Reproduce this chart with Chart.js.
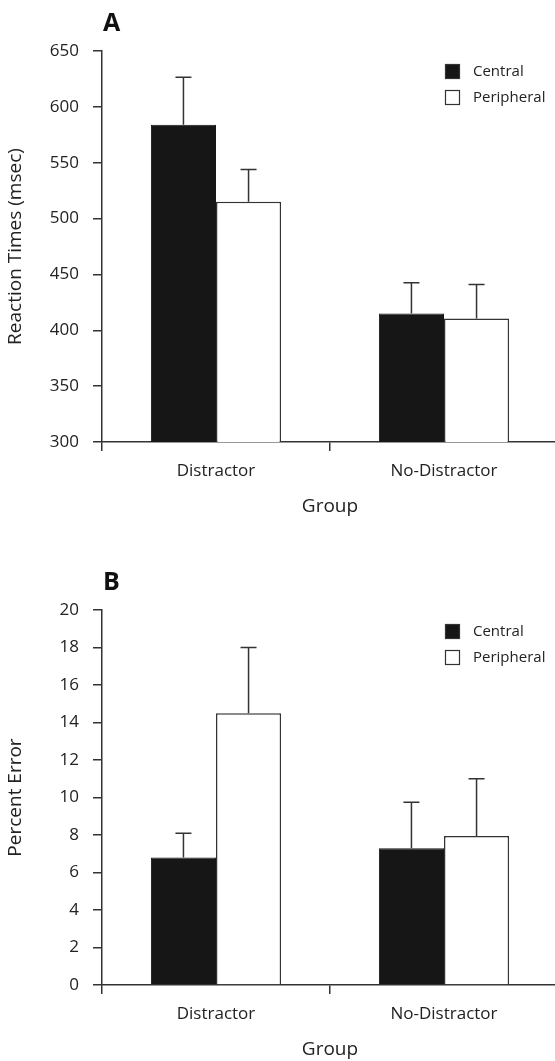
<!DOCTYPE html>
<html>
<head>
<meta charset="utf-8">
<script src="https://cdn.jsdelivr.net/npm/chart.js@4.4.0/dist/chart.umd.min.js"></script>
<style>
  html, body { margin: 0; padding: 0; background: #fff; }
  body { width: 555px; height: 1061px; overflow: hidden; position: relative; }
  canvas { position: absolute; left: 0; }
  #chartA { top: 0; }
  #chartB { top: 543px; }
</style>
</head>
<body>
<canvas id="chartA" width="558" height="530"></canvas>
<canvas id="chartB" width="558" height="530"></canvas>
<script>
// data
const categories = ['Distractor', 'No-Distractor'];
const seriesNames = ['Central', 'Peripheral'];

// panel A: reaction times (msec), bar means and error (SE) sizes
const rtCentral = [584, 415];
const rtPeripheral = [515, 410.5];
const rtCentralErr = [42.5, 27.5];
const rtPeripheralErr = [29, 30.5];
const rtTicks = { min: 300, max: 650, step: 50 };

// panel B: percent error
const peCentral = [6.8, 7.3];
const pePeripheral = [14.5, 7.95];
const peCentralErr = [1.3, 2.45];
const pePeripheralErr = [3.5, 3.05];
const peTicks = { min: 0, max: 20, step: 2 };

const FONT = "'Open Sans', 'Noto Sans', sans-serif";
const INK = '#222';
const AXIS = '#333';

// error bars on top of each bar, positioned with the y scale
const errorBars = {
  id: 'errorBars',
  afterDatasetsDraw(chart) {
    const ctx = chart.ctx;
    const y = chart.scales.y;
    ctx.save();
    ctx.strokeStyle = AXIS;
    ctx.lineWidth = 1.5;
    chart.data.datasets.forEach((ds, di) => {
      const meta = chart.getDatasetMeta(di);
      meta.data.forEach((bar, i) => {
        const top = y.getPixelForValue(ds.data[i] + ds.errors[i]);
        ctx.beginPath();
        ctx.moveTo(bar.x, bar.y);
        ctx.lineTo(bar.x, top);
        ctx.moveTo(bar.x - 8, top);
        ctx.lineTo(bar.x + 8, top);
        ctx.stroke();
      });
    });
    ctx.restore();
  }
};

// panel letter and the small legend in the top right
const panelDecor = {
  id: 'panelDecor',
  afterDraw(chart, args, opts) {
    const ctx = chart.ctx;
    const area = chart.chartArea;
    ctx.save();
    ctx.fillStyle = '#111';
    ctx.font = "bold 25px " + FONT;
    ctx.textBaseline = 'alphabetic';
    ctx.fillText(opts.letter, area.left + 1, area.top - 20);

    const lx = area.left + 343;
    let ly = area.top + opts.legendTop;
    ctx.font = "15px " + FONT;
    ctx.textBaseline = 'middle';
    chart.data.datasets.forEach((ds) => {
      ctx.fillStyle = ds.backgroundColor;
      ctx.fillRect(lx, ly, 15, 15);
      ctx.strokeStyle = AXIS;
      ctx.lineWidth = 1.2;
      ctx.strokeRect(lx + 0.5, ly + 0.5, 14, 14);
      ctx.fillStyle = INK;
      ctx.fillText(ds.label, lx + 28, ly + 8);
      ly += 26;
    });
    ctx.restore();
  }
};

function makeChart(id, letter, central, peripheral, centralErr, peripheralErr, ticks, yTitle, padTop, legendTop) {
  const ctx = document.getElementById(id).getContext('2d');
  return new Chart(ctx, {
    type: 'bar',
    data: {
      labels: categories,
      datasets: [
        {
          label: seriesNames[0],
          data: central,
          errors: centralErr,
          backgroundColor: '#161616',
          borderColor: '#161616',
          borderWidth: 1,
        },
        {
          label: seriesNames[1],
          data: peripheral,
          errors: peripheralErr,
          backgroundColor: '#ffffff',
          borderColor: AXIS,
          borderWidth: 1.5,
        },
      ],
    },
    options: {
      responsive: false,
      animation: false,
      categoryPercentage: 0.571,
      barPercentage: 1.0,
      layout: { padding: { top: padTop, left: 0, right: 0, bottom: 0 } },
      scales: {
        x: {
          afterFit(scale) { scale.height = 88; },
          grid: { drawOnChartArea: false, drawTicks: true, tickLength: 9, color: AXIS, lineWidth: 1.5 },
          border: { display: true, color: AXIS, width: 1.5 },
          ticks: { color: INK, padding: 10, font: { family: FONT, size: 17 } },
          title: {
            display: true,
            text: 'Group',
            color: INK,
            padding: { top: 0, bottom: 12 },
            font: { family: FONT, size: 19 },
          },
        },
        y: {
          min: ticks.min,
          max: ticks.max,
          afterFit(scale) { scale.width = 102; },
          grid: { drawOnChartArea: false, drawTicks: true, tickLength: 9, color: AXIS, lineWidth: 1.5 },
          border: { display: true, color: AXIS, width: 1.5 },
          ticks: { stepSize: ticks.step, color: INK, padding: 14, font: { family: FONT, size: 17 } },
          title: {
            display: true,
            text: yTitle,
            color: INK,
            padding: { top: 4, bottom: 0 },
            font: { family: FONT, size: 19 },
          },
        },
      },
      plugins: {
        legend: { display: false },
        tooltip: { enabled: false },
        panelDecor: { letter: letter, legendTop: legendTop },
      },
    },
    plugins: [errorBars, panelDecor],
  });
}

makeChart('chartA', 'A', rtCentral, rtPeripheral, rtCentralErr, rtPeripheralErr, rtTicks,
  'Reaction Times (msec)', 51, 13);
makeChart('chartB', 'B', peCentral, pePeripheral, peCentralErr, pePeripheralErr, peTicks,
  'Percent Error', 67, 14);
</script>
</body>
</html>
